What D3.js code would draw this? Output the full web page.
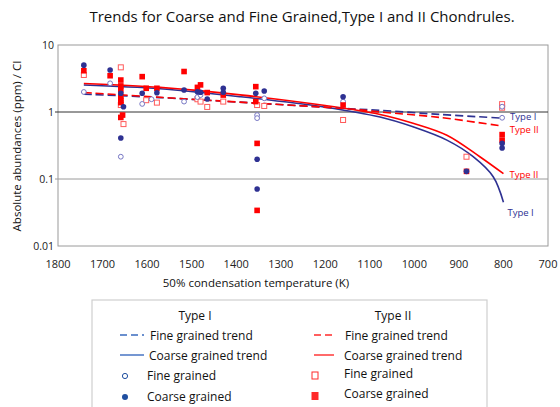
<!DOCTYPE html>
<html>
<head>
<meta charset="utf-8">
<script src="https://cdn.jsdelivr.net/npm/d3@7"></script>
<style>
  body { margin: 0; background: #fff; }
  svg { display: block; font-family: "Open Sans", "Noto Sans", sans-serif; }
</style>
</head>
<body>
<div id="chart"></div>
<script>
// values: [temperature K, abundance]
const xTicks = [1800, 1700, 1600, 1500, 1400, 1300, 1200, 1100, 1000, 900, 800, 700];
const yTicks = [10, 1, 0.1, 0.01];

const type1Fine = [[1742, 1.99], [1683, 2.68], [1659, 0.215], [1611, 1.32], [1590, 1.55],
  [1517, 1.43], [1487, 1.67], [1480, 1.79], [1337, 1.60], [1353, 0.90], [1353, 0.81],
  [1160, 1.43], [803, 0.82], [803, 1.2]];
const type1Coarse = [[1742, 5.0], [1683, 4.24], [1659, 1.90], [1653, 1.20], [1659, 0.41],
  [1611, 1.90], [1578, 1.94], [1517, 2.13], [1487, 2.0], [1480, 1.97], [1465, 1.56],
  [1429, 2.26], [1429, 1.97], [1356, 1.90], [1337, 2.06], [1353, 0.197], [1353, 0.071],
  [1160, 1.69], [883, 0.13], [803, 0.34], [803, 0.29]];
const type2Fine = [[1742, 3.57], [1659, 4.64], [1659, 1.27], [1653, 0.66], [1602, 1.5],
  [1578, 1.38], [1487, 1.55], [1480, 1.43], [1465, 1.19], [1429, 1.43], [1353, 1.27],
  [1337, 1.23], [1160, 0.76], [883, 0.215], [803, 1.31], [803, 1.16]];
const type2Coarse = [[1742, 4.13], [1683, 3.48], [1659, 3.0], [1659, 2.45], [1659, 2.13],
  [1659, 1.69], [1659, 1.5], [1659, 1.38], [1659, 0.83], [1655, 0.9], [1611, 3.37],
  [1602, 2.26], [1578, 2.26], [1517, 4.02], [1487, 2.33], [1480, 2.54], [1465, 1.95],
  [1429, 1.79], [1356, 2.39], [1356, 1.43], [1353, 0.34], [1353, 0.034], [1160, 1.27],
  [883, 0.13], [803, 0.46], [803, 0.38]];

const trend1Fine = [[1742, 1.85], [1571, 1.64], [1383, 1.39], [1137, 1.11], [1077, 1.06], [943, 0.92], [803, 0.81]];
const trend2Fine = [[1742, 1.95], [1571, 1.66], [1383, 1.39], [1137, 1.10], [1077, 1.0], [943, 0.83], [806, 0.62]];
const trend1Coarse = [[1742, 2.53], [1571, 2.22], [1391, 1.69], [1200, 1.18], [1077, 0.84], [1003, 0.60], [927, 0.38], [868, 0.215], [823, 0.108], [800, 0.045]];
const trend2Coarse = [[1742, 2.66], [1571, 2.33], [1391, 1.80], [1200, 1.25], [1077, 0.92], [1003, 0.68], [927, 0.45], [853, 0.215], [800, 0.12]];

const navy = "#2e3192", red = "#ff0000", lightNavy = "#7777c4", lightRed = "#ff5a5a";

const width = 560, height = 407;
const margin = { top: 45, right: 12, bottom: 161, left: 58 };

const svg = d3.select("#chart").append("svg")
  .attr("width", width)
  .attr("height", height);

const x = d3.scaleLinear().domain([1800, 700]).range([margin.left, width - margin.right]);
const y = d3.scaleLog().domain([0.01, 10]).range([height - margin.bottom, margin.top]);

svg.append("text")
  .attr("x", 302).attr("y", 22)
  .attr("text-anchor", "middle")
  .attr("font-size", 15)
  .attr("fill", "#111")
  .text("Trends for Coarse and Fine Grained,Type I and II Chondrules.");

// frame + grid
svg.append("rect")
  .attr("x", x(1800)).attr("y", y(10))
  .attr("width", x(700) - x(1800)).attr("height", y(0.01) - y(10))
  .attr("fill", "none").attr("stroke", "#9a9a9a");

svg.append("g").selectAll("line")
  .data([1, 0.1])
  .join("line")
  .attr("x1", x(1800) - 3).attr("x2", x(700))
  .attr("y1", d => y(d)).attr("y2", d => y(d))
  .attr("stroke", d => d === 1 ? "#333" : "#9a9a9a");

svg.append("g").selectAll("text")
  .data(yTicks)
  .join("text")
  .attr("x", x(1800) - 4).attr("y", d => y(d) + 4)
  .attr("text-anchor", "end")
  .attr("font-size", 10.5)
  .attr("fill", "#222")
  .text(d => d);

svg.append("g").selectAll("text")
  .data(xTicks)
  .join("text")
  .attr("x", d => x(d)).attr("y", 268)
  .attr("text-anchor", "middle")
  .attr("font-size", 11)
  .attr("fill", "#222")
  .text(d => d);

svg.append("text")
  .attr("x", 256).attr("y", 287)
  .attr("text-anchor", "middle")
  .attr("font-size", 11.5)
  .attr("fill", "#111")
  .text("50% condensation temperature (K)");

svg.append("text")
  .attr("transform", "translate(21,146) rotate(-90)")
  .attr("text-anchor", "middle")
  .attr("font-size", 11.5)
  .attr("fill", "#111")
  .text("Absolute abundances (ppm) / CI");

// trend lines
const line = d3.line()
  .x(d => x(d[0]))
  .y(d => y(d[1]))
  .curve(d3.curveCatmullRom.alpha(0.5));

const trends = [
  { data: trend1Coarse, color: navy, dash: null },
  { data: trend2Coarse, color: red, dash: null },
  { data: trend1Fine, color: navy, dash: "8,4" },
  { data: trend2Fine, color: red, dash: "8,4" }
];

svg.append("g").selectAll("path")
  .data(trends)
  .join("path")
  .attr("d", d => line(d.data))
  .attr("fill", "none")
  .attr("stroke", d => d.color)
  .attr("stroke-width", 1.6)
  .attr("stroke-dasharray", d => d.dash);

// points
const g = svg.append("g");

g.selectAll(".t2f").data(type2Fine).join("rect")
  .attr("x", d => x(d[0]) - 2.5).attr("y", d => y(d[1]) - 2.5)
  .attr("width", 5).attr("height", 5)
  .attr("fill", "#fff").attr("stroke", lightRed).attr("stroke-width", 1);

g.selectAll(".t1f").data(type1Fine).join("circle")
  .attr("cx", d => x(d[0])).attr("cy", d => y(d[1]))
  .attr("r", 2.4)
  .attr("fill", "#fff").attr("stroke", lightNavy).attr("stroke-width", 1);

g.selectAll(".t2c").data(type2Coarse).join("rect")
  .attr("x", d => x(d[0]) - 2.8).attr("y", d => y(d[1]) - 2.8)
  .attr("width", 5.6).attr("height", 5.6)
  .attr("fill", red);

g.selectAll(".t1c").data(type1Coarse).join("circle")
  .attr("cx", d => x(d[0])).attr("cy", d => y(d[1]))
  .attr("r", 2.8)
  .attr("fill", navy);

// end labels
const endLabels = [
  { t: trend1Fine, text: "Type I", color: navy, dx: 8, dy: 2 },
  { t: trend2Fine, text: "Type II", color: red, dx: 9, dy: 7 },
  { t: trend2Coarse, text: "Type II", color: red, dx: 6, dy: 4 },
  { t: trend1Coarse, text: "Type I", color: navy, dx: 4, dy: 14 }
];

svg.append("g").selectAll("text")
  .data(endLabels)
  .join("text")
  .attr("x", d => x(d.t[d.t.length - 1][0]) + d.dx)
  .attr("y", d => y(d.t[d.t.length - 1][1]) + d.dy)
  .attr("font-size", 9.5)
  .attr("fill", d => d.color)
  .text(d => d.text);

// legend
const leg = svg.append("g");
leg.append("rect")
  .attr("x", 92).attr("y", 300)
  .attr("width", 395).attr("height", 120)
  .attr("fill", "#fff").attr("stroke", "#cfcfcf").attr("stroke-width", 1.2);

const legBlue = "#3a6bbf", legDot = "#1f4fa0", legRed = "#ff2a2a";

const cols = [
  { title: "Type I", cx: 195, lx1: 120, lx2: 144, tx: 150, line: legBlue, mark: "circle" },
  { title: "Type II", cx: 393, lx1: 314, lx2: 334, tx: 345, line: legRed, mark: "square" }
];

cols.forEach(c => {
  leg.append("text").attr("x", c.cx).attr("y", 320)
    .attr("text-anchor", "middle").attr("font-size", 12).attr("fill", "#111").text(c.title);
  leg.append("line").attr("x1", c.lx1).attr("x2", c.lx2).attr("y1", 335).attr("y2", 335)
    .attr("stroke", c.line).attr("stroke-width", 1.4).attr("stroke-dasharray", "7,4");
  leg.append("text").attr("x", c.tx).attr("y", 339.5).attr("font-size", 12).attr("fill", "#111").text("Fine grained trend");
  leg.append("line").attr("x1", c.lx1).attr("x2", c.lx2).attr("y1", 355).attr("y2", 355)
    .attr("stroke", c.line).attr("stroke-width", 1.4);
  leg.append("text").attr("x", c.tx - 1).attr("y", 359.5).attr("font-size", 12).attr("fill", "#111").text("Coarse grained trend");
  if (c.mark === "circle") {
    leg.append("circle").attr("cx", 125).attr("cy", 376).attr("r", 2.6)
      .attr("fill", "#fff").attr("stroke", legDot).attr("stroke-width", 1);
    leg.append("circle").attr("cx", 125).attr("cy", 397).attr("r", 3)
      .attr("fill", legDot);
    leg.append("text").attr("x", 147).attr("y", 379.5).attr("font-size", 12).attr("fill", "#111").text("Fine grained");
    leg.append("text").attr("x", 147).attr("y", 401).attr("font-size", 12).attr("fill", "#111").text("Coarse grained");
  } else {
    leg.append("rect").attr("x", 312).attr("y", 372).attr("width", 6).attr("height", 7)
      .attr("fill", "#fff").attr("stroke", legRed).attr("stroke-width", 1);
    leg.append("rect").attr("x", 311.5).attr("y", 392).attr("width", 7).attr("height", 8)
      .attr("fill", legRed);
    leg.append("text").attr("x", 344).attr("y", 378).attr("font-size", 12).attr("fill", "#111").text("Fine grained");
    leg.append("text").attr("x", 344).attr("y", 398).attr("font-size", 12).attr("fill", "#111").text("Coarse grained");
  }
});
</script>
</body>
</html>
